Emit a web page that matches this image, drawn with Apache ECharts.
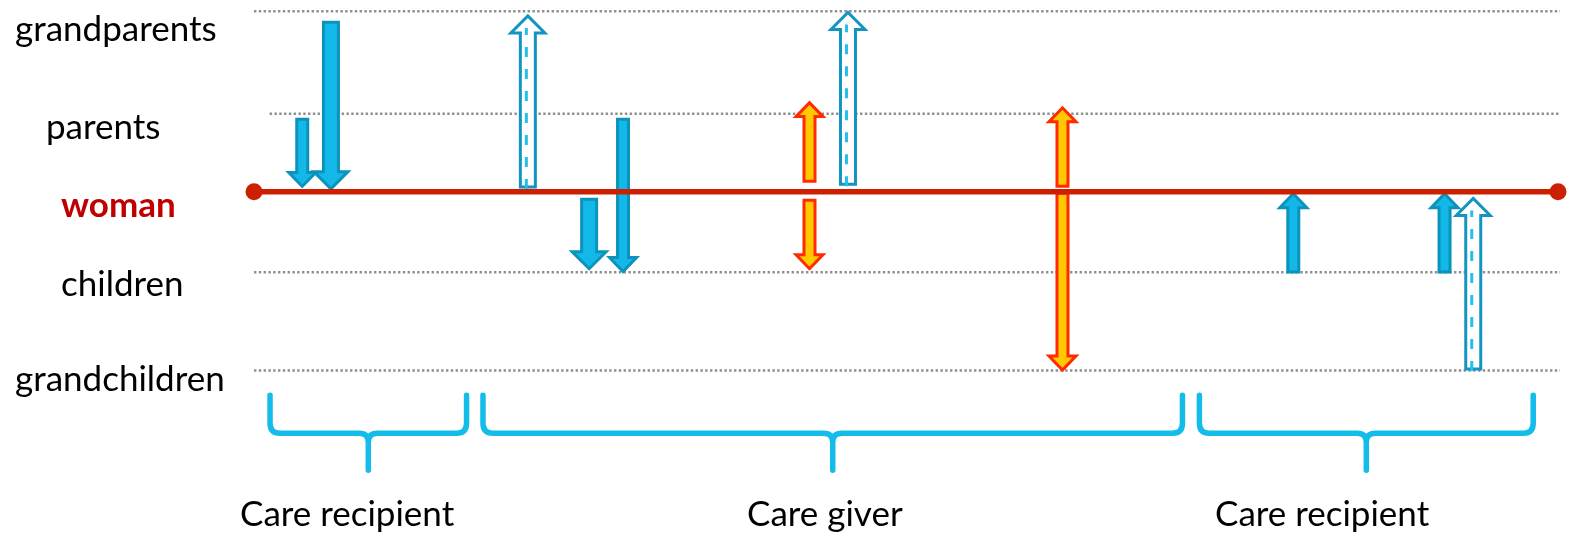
<!DOCTYPE html>
<html><head><meta charset="utf-8">
<script src="https://cdn.jsdelivr.net/npm/echarts@6/dist/echarts.min.js"></script>
<style>html,body{margin:0;padding:0;background:#fff}#c{width:1573px;height:534px}</style>
</head><body><div id="c"></div>
<script>
// ---- data ----
const levelNames = ['grandparents', 'parents', 'woman', 'children', 'grandchildren'];
const levelValues = [2.26, 0.975, 0, -1.01, -2.24];
const gridLineStart = [0, 1.2, 0, 0, 0];
const gridLineEnd = [100.4, 101.2, 100, 100.4, 100.4];
const lifeSpan = [0, 100];

// one-way care flows (solid)
const solidX = [3.7, 5.9, 25.7, 28.3, 79.7, 91.3];
const solidFrom = [0.925, 2.14, -0.075, 0.925, -1.025, -1.025];
const solidTo = [0.04, 0.01, -0.99, -1.025, 0, 0];

// mutual care (orange)
const mutualX = [42.6, 42.6, 62.0, 62.0];
const mutualFrom = [0.11, -0.09, 0.05, 0];
const mutualTo = [1.14, -0.99, 1.075, -2.26];

// potential care (hollow, dashed)
const dashedX = [21.0, 45.55, 93.5];
const dashedFrom = [0.04, 0.075, -2.24];
const dashedTo = [2.225, 2.27, -0.06];

const phaseNames = ['Care recipient', 'Care giver', 'Care recipient'];
const phaseStart = [1.23, 17.56, 72.5];
const phaseEnd = [16.3, 71.2, 98.1];

// ---- layout / style ----
const solidSize = [0, 1, 1, 0, 0, 0];
const SIZES = [{w: 5.5, h: 13.5, L: 14}, {w: 7.5, h: 17, L: 17}];
const levelLabelPos = [[15, 30], [46, 128], [61, 206], [61, 285], [15, 380]];
const phaseLabelX = [240, 747, 1215];
const FONT = 'Lato, "Open Sans", sans-serif';

const chart = echarts.init(document.getElementById('c'));

function arrowPts(api, sz) {
  const x = api.value(0);
  const p0 = api.coord([x, api.value(1)]);
  const p1 = api.coord([x, api.value(2)]);
  const cx = p0[0];
  const d = p1[1] > p0[1] ? 1 : -1;
  const ty = p0[1] + d * 1.5;
  const tip = p1[1] - d * 2;
  const hb = tip - d * sz.L;
  return [[cx - sz.w, ty], [cx - sz.w, hb], [cx - sz.h, hb], [cx, tip],
          [cx + sz.h, hb], [cx + sz.w, hb], [cx + sz.w, ty]];
}

const series = [];
// dotted level lines
levelNames.forEach((n, i) => {
  if (n === 'woman') return;
  series.push({
    type: 'line', z: 1, silent: true, clip: false, symbol: 'none',
    data: [[gridLineStart[i], levelValues[i]], [gridLineEnd[i], levelValues[i]]],
    lineStyle: {color: '#8f8f8f', width: 2.6, type: [2.4, 2.4]}
  });
});

series.push({
  type: 'custom', z: 2, clip: false,
  data: solidX.map((x, i) => [x, solidFrom[i], solidTo[i], solidSize[i]]),
  renderItem: (p, api) => ({
    type: 'polygon',
    shape: {points: arrowPts(api, SIZES[api.value(3)])},
    style: {fill: '#12B9E8', stroke: '#0C93BC', lineWidth: 3, lineJoin: 'miter'}
  })
});
series.push({
  type: 'custom', z: 2, clip: false,
  data: mutualX.map((x, i) => [x, mutualFrom[i], mutualTo[i]]),
  renderItem: (p, api) => ({
    type: 'polygon',
    shape: {points: arrowPts(api, SIZES[0])},
    style: {fill: '#FFC800', stroke: '#FF2A00', lineWidth: 3, lineJoin: 'miter'}
  })
});
// woman life line
series.push({
  type: 'line', z: 3, silent: true, clip: false,
  data: lifeSpan.map(v => [v, 0]),
  symbol: 'circle', symbolSize: 17,
  itemStyle: {color: '#CD2000'},
  lineStyle: {color: '#CD2000', width: 5.5}
});
series.push({
  type: 'custom', z: 4, clip: false,
  data: dashedX.map((x, i) => [x, dashedFrom[i], dashedTo[i]]),
  renderItem: (p, api) => {
    const pts = arrowPts(api, SIZES[1]);
    const cx = pts[3][0], d = pts[3][1] > pts[0][1] ? 1 : -1;
    return {
      type: 'group',
      children: [
        {type: 'polygon', shape: {points: pts},
         style: {fill: '#fff', stroke: '#1494C0', lineWidth: 3, lineJoin: 'miter'}},
        {type: 'line', shape: {x1: cx - 1.5, y1: pts[0][1] - d * 2, x2: cx - 1.5, y2: pts[3][1] - d * 12},
         style: {stroke: '#22C0EE', lineWidth: 3, lineDash: [10, 12]}}
      ]
    };
  }
});
// braces for life phases
series.push({
  type: 'custom', z: 2, clip: false,
  data: phaseStart.map((s, i) => [s, phaseEnd[i]]),
  renderItem: (p, api) => {
    const a = api.coord([api.value(0), -2.55]);
    const b = api.coord([api.value(1), -2.55]);
    const L = a[0], R = b[0], T = a[1], C = (L + R) / 2;
    const H = T + 38, B = H + 37, r = 10, r2 = 9;
    const path = `M${L} ${T} L${L} ${H - r} Q${L} ${H} ${L + r} ${H} L${C - r2} ${H} Q${C} ${H} ${C} ${H + r2} L${C} ${B}` +
      ` M${R} ${T} L${R} ${H - r} Q${R} ${H} ${R - r} ${H} L${C + r2} ${H} Q${C} ${H} ${C} ${H + r2} L${C} ${B}`;
    return {
      type: 'path', shape: {pathData: path},
      style: {fill: null, stroke: '#14BCEA', lineWidth: 5.5, lineCap: 'round', lineJoin: 'round'}
    };
  }
});

const graphic = [];
levelNames.forEach((n, i) => {
  graphic.push({
    type: 'text', x: levelLabelPos[i][0], y: levelLabelPos[i][1],
    style: {
      text: n, font: (n === 'woman' ? 'bold ' : '') + '35px ' + FONT,
      fill: n === 'woman' ? '#C00000' : '#000', align: 'left', verticalAlign: 'middle'
    }
  });
});
phaseNames.forEach((n, i) => {
  graphic.push({
    type: 'text', x: phaseLabelX[i], y: 515,
    style: {text: n, font: '35px ' + FONT, fill: '#000', align: 'left', verticalAlign: 'middle'}
  });
});

chart.setOption({
  animation: false,
  grid: {left: 254, right: 15, top: -1, bottom: 7},
  xAxis: {type: 'value', min: 0, max: 100, show: false},
  yAxis: {type: 'value', min: -4.2, max: 2.4, show: false},
  series: series,
  graphic: graphic
});
</script>
</body></html>
